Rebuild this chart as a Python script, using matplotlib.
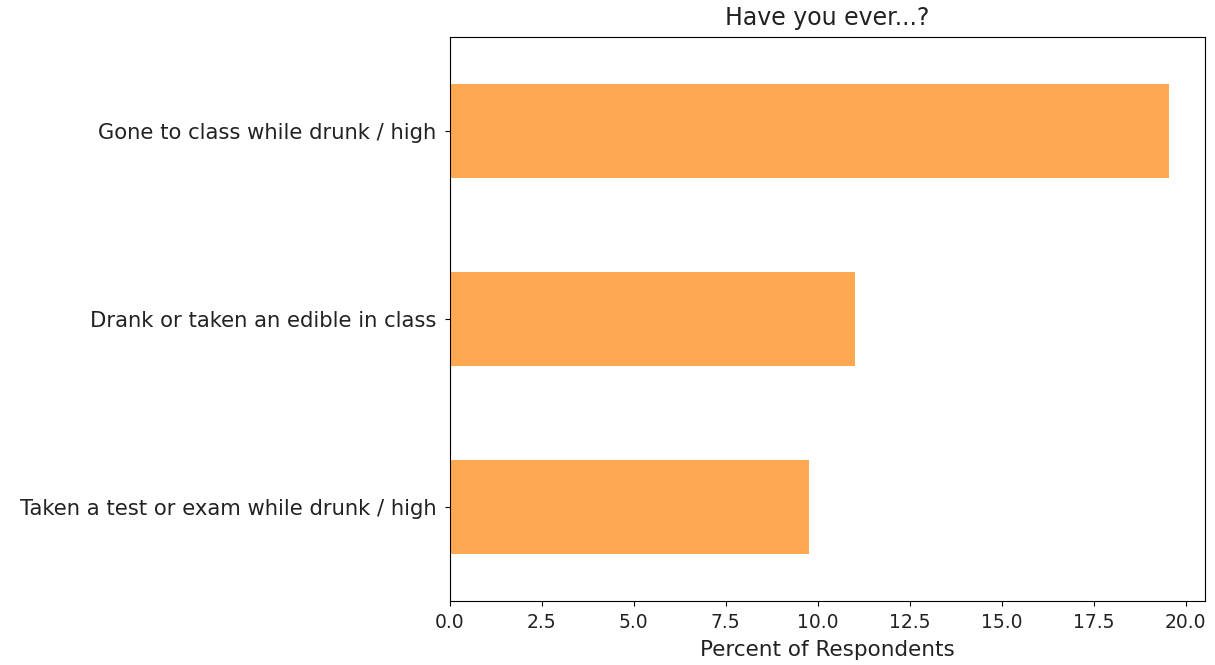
import matplotlib.pyplot as plt

# bottom to top, as barh draws them
questions = [
    "Taken a test or exam while drunk / high",
    "Drank or taken an edible in class",
    "Gone to class while drunk / high",
]
percents = [9.77, 11.02, 19.55]
xticks = [0, 2.5, 5, 7.5, 10, 12.5, 15, 17.5, 20]

plt.rcParams['font.family'] = ['DejaVu Sans']

fig, ax = plt.subplots(figsize=(12.15, 6.65), dpi=100)
ax.barh(range(len(questions)), percents, height=0.5, color="#ffa852")
ax.set_yticks(range(len(questions)))
ax.set_yticklabels(questions, fontsize=15.2, color="#222222")
ax.set_ylim(-0.5, len(questions) - 0.5)
ax.set_xlim(0, max(percents) * 1.05)
ax.set_xticks(xticks)
ax.set_xticklabels([f"{t:.1f}" for t in xticks], color="#222222")
ax.tick_params(axis="x", labelsize=13.5, pad=5)
ax.tick_params(axis="y", pad=6)
ax.set_xlabel("Percent of Respondents", fontsize=15.5, color="#222222", labelpad=6)
ax.set_title("Have you ever...?", fontsize=17, color="#222222", pad=9)

fig.subplots_adjust(left=0.37, right=0.992, top=0.944, bottom=0.096)
fig.savefig("out.png", dpi=100)
